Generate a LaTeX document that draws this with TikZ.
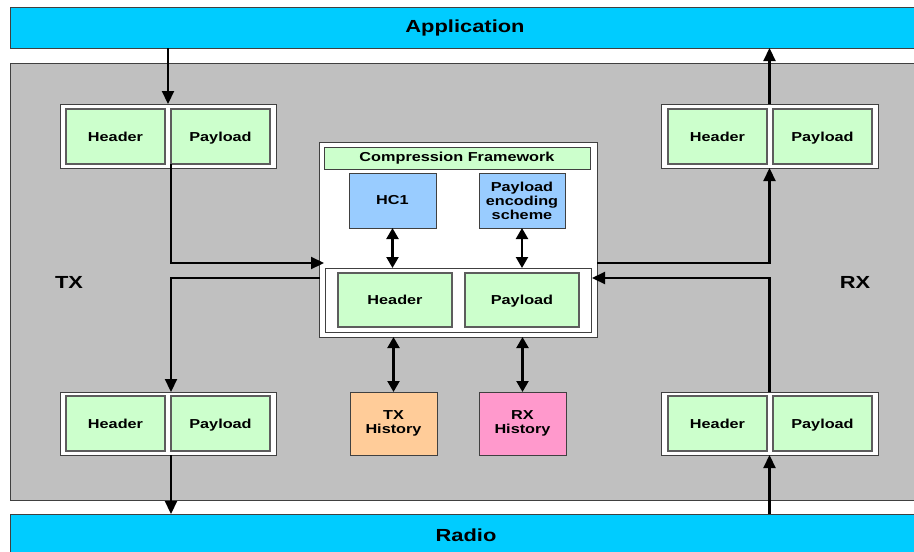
\documentclass[tikz,border=0pt]{standalone}
\usepackage{fontspec}
\setmainfont{Liberation Sans}[FakeStretch=1.25]
\usetikzlibrary{arrows.meta,calc}
\definecolor{appblue}{HTML}{00CCFF}
\definecolor{panelgray}{HTML}{C0C0C0}
\definecolor{pktgreen}{HTML}{CCFFCC}
\definecolor{algblue}{HTML}{99CCFF}
\definecolor{txorange}{HTML}{FFCC99}
\definecolor{rxpink}{HTML}{FF99CC}
\definecolor{edge}{HTML}{404040}
\tikzset{
  base/.style={inner sep=0pt, outer sep=0pt, font=\fontsize{13}{14}\selectfont\bfseries, align=center},
  bar/.style={base, draw=edge, line width=0.8pt, fill=appblue, font=\fontsize{17.5}{20}\selectfont\bfseries},
  frame/.style={base, draw=edge, line width=0.8pt, fill=white},
  pkt/.style={base, draw=edge!85, line width=1.3pt, fill=pktgreen, minimum width=99pt, minimum height=55pt, text height=9.3pt, text depth=0pt},
  alg/.style={base, draw=edge, line width=0.8pt, fill=#1, minimum width=87pt},
  side/.style={base, font=\fontsize{17.5}{20}\selectfont\bfseries},
  arr/.style={line width=2.2pt, -{Triangle[length=13pt,width=12pt]}},
  darr/.style={line width=2.2pt, {Triangle[length=11pt,width=12pt]}-{Triangle[length=11pt,width=12pt]}}
}
\begin{document}
\begin{tikzpicture}[x=1pt,y=-1pt]
\useasboundingbox (0,0) rectangle (914,552);
\clip (0,0) rectangle (914,552);
\fill[white] (0,0) rectangle (914,552);
% bars and panel
\node[bar, minimum width=910pt, minimum height=41pt] (app) at (465,27.5) {Application};
\node[base, draw=edge, line width=0.8pt, fill=panelgray, minimum width=910pt, minimum height=437pt] (panel) at (465,281.5) {};
\node[bar, minimum width=910pt, minimum height=46pt] (radio) at (465,537) {};
\node[base, font=\fontsize{17.5}{20}\selectfont\bfseries] (radiotxt) at (466,535) {Radio};
% TX / RX labels
\node[side] (txl) at (69,282) {TX};
\node[side] (rxl) at (855,282) {RX};
% packet groups
\node[frame, minimum width=216pt, minimum height=64pt] (tl) at (168,136) {};
\node[pkt] (tlh) at (115.5,136.5) {Header};
\node[pkt] (tlp) at (220.5,136.5) {Payload};
\node[frame, minimum width=217pt, minimum height=64pt] (tr) at (769.5,136) {};
\node[pkt] (trh) at (717.5,136.5) {Header};
\node[pkt] (trp) at (822.5,136.5) {Payload};
\node[frame, minimum width=216pt, minimum height=63pt] (bl) at (168,423.5) {};
\node[pkt] (blh) at (115.5,423.5) {Header};
\node[pkt] (blp) at (220.5,423.5) {Payload};
\node[frame, minimum width=217pt, minimum height=63pt] (br) at (769.5,423.5) {};
\node[pkt] (brh) at (717.5,423.5) {Header};
\node[pkt] (brp) at (822.5,423.5) {Payload};
% compression framework
\node[frame, minimum width=278pt, minimum height=195pt] (cf) at (458,239.5) {};
\node[base, draw=edge, line width=0.8pt, fill=pktgreen, minimum width=266pt, minimum height=22pt] (cft) at (457,158) {Compression Framework};
\node[alg=algblue, minimum height=55pt] (hc1) at (392.5,200.5) {HC1};
\node[alg=algblue, minimum width=86pt, minimum height=55pt] (pes) at (522,200.5) {Payload\\encoding\\scheme};
\node[frame, minimum width=266pt, minimum height=64pt] (inner) at (458,300) {};
\node[pkt, minimum width=114pt, minimum height=54pt] (ih) at (395,300) {Header};
\node[pkt, minimum width=114pt, minimum height=54pt] (ip) at (522,300) {Payload};
% histories
\node[alg=txorange, minimum height=63pt] (txh) at (393.5,423.5) {TX\\History};
\node[alg=rxpink, minimum height=63pt] (rxh) at (522.5,423.5) {RX\\History};
% connector end points on the framework
\coordinate (cfinL) at (324,263);
\coordinate (cfoutL) at (320,278);
\coordinate (cfinR) at (592,278);
\coordinate (cfoutR) at (597,263);
% TX path
\draw[arr] (app.south -| tl.north) -- (tl.north);
\draw[arr] (tlp.south west) |- (cfinL);
\draw[arr] (cfoutL) -| (bl.north -| blp.west);
\draw[arr] (bl.south -| blp.west) -- (radio.north -| blp.west);
% RX path
\draw[arr] (radio.north -| br.south) -- (br.south);
\draw[arr] (br.north) |- (cfinR);
\draw[arr] (cfoutR) -| (tr.south);
\draw[arr] (tr.north) -- (tr.north |- app.south);
% framework internal
\draw[darr] (hc1.south) -- (hc1.south |- inner.north);
\draw[darr] (pes.south) -- (pes.south |- inner.north);
\draw[darr] (cf.south -| txh.north) -- (txh.north);
\draw[darr] (cf.south -| rxh.north) -- (rxh.north);
\end{tikzpicture}
\end{document}
